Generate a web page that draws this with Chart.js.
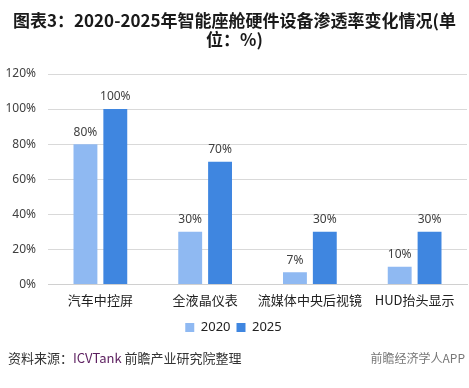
<!DOCTYPE html>
<html>
<head>
<meta charset="utf-8">
<script src="https://cdn.jsdelivr.net/npm/chart.js@4"></script>
<style>
  html, body { margin: 0; padding: 0; background: #fff; }
  body { width: 469px; height: 388px; position: relative; overflow: hidden; font-family: "Noto Sans CJK SC", "Noto Sans", sans-serif; }
  #title { position: absolute; left: 0; top: 10px; width: 469px; text-align: center; font-size: 17px; font-weight: bold; line-height: 19px; color: #1a1a1a; }
  #wrap { position: absolute; left: 0; top: 0; width: 469px; height: 388px; }
  #source { position: absolute; left: 8px; top: 348px; font-size: 13px; color: #333; }
  #source span { color: #5b1d5e; }
  #brand { position: absolute; right: 4px; top: 349px; font-size: 12px; color: #777; }
</style>
</head>
<body>
<div id="wrap"><canvas id="chart"></canvas></div>
<div id="title">图表3：2020-2025年智能座舱硬件设备渗透率变化情况(单<br>位：%)</div>
<div id="source">资料来源：<span>ICVTank</span> 前瞻产业研究院整理</div>
<div id="brand">前瞻经济学人APP</div>
<script>
const categories = ['汽车中控屏', '全液晶仪表', '流媒体中央后视镜', 'HUD抬头显示'];
const values2020 = [80, 30, 7, 10];
const values2025 = [100, 70, 30, 30];
const yTicks = [0, 20, 40, 60, 80, 100, 120];

const barLabels = {
    id: 'barLabels',
    afterDatasetsDraw(chart) {
        const ctx = chart.ctx;
        ctx.save();
        ctx.font = '12px "Noto Sans", sans-serif';
        ctx.fillStyle = '#404040';
        ctx.textAlign = 'center';
        ctx.textBaseline = 'bottom';
        chart.data.datasets.forEach((ds, i) => {
            chart.getDatasetMeta(i).data.forEach((bar, j) => {
                ctx.fillText(ds.data[j] + '%', bar.x, bar.y - 6);
            });
        });
        ctx.restore();
    }
};

new Chart(document.getElementById('chart'), {
    type: 'bar',
    data: {
        labels: categories,
        datasets: [
            { label: '2020', data: values2020, backgroundColor: '#8fb9f2' },
            { label: '2025', data: values2025, backgroundColor: '#3f86e0' }
        ]
    },
    options: {
        responsive: true,
        maintainAspectRatio: false,
        animation: false,
        layout: { padding: { top: 74, bottom: 44, left: 0, right: 2 } },
        datasets: { bar: { categoryPercentage: 0.57, barPercentage: 0.8 } },
        plugins: {
            legend: {
                position: 'bottom',
                labels: { boxWidth: 9, boxHeight: 9, padding: 6, color: '#222', font: { size: 13, family: '"Noto Sans", sans-serif' } }
            },
            tooltip: { enabled: false }
        },
        scales: {
            x: {
                afterFit(scale) { scale.height += 7; },
                grid: { display: false },
                border: { color: '#d0d0d0' },
                ticks: { color: '#222', padding: 0, maxRotation: 0, minRotation: 0, autoSkip: false, font: { size: 13, family: '"Noto Sans CJK SC", sans-serif' } }
            },
            y: {
                min: 0,
                max: 120,
                afterFit(scale) { scale.width = 48; },
                afterBuildTicks(scale) { scale.ticks = yTicks.map(v => ({ value: v })); },
                grid: { color: '#d9d9d9', drawTicks: false },
                border: { display: false },
                ticks: { color: '#404040', padding: 12, font: { size: 12, family: '"Noto Sans", sans-serif' }, callback: v => v + '%' }
            }
        }
    },
    plugins: [barLabels]
});
</script>
</body>
</html>
